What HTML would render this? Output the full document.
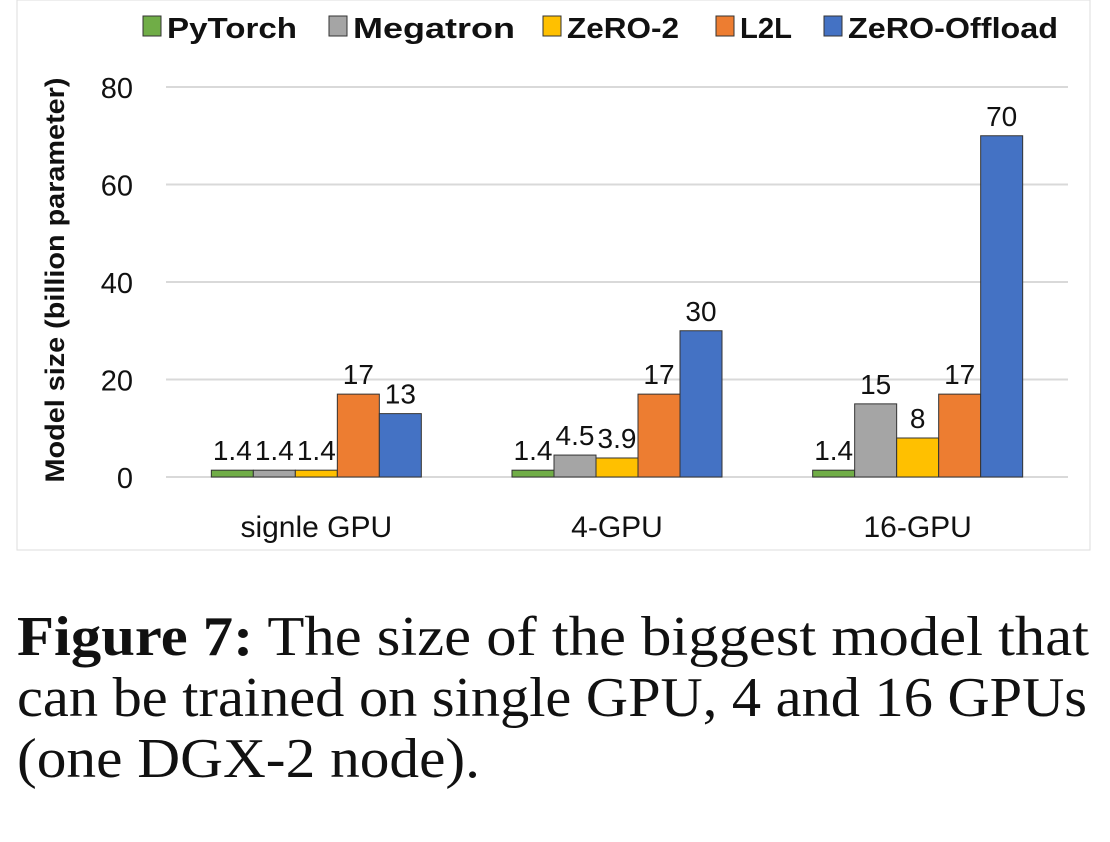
<!DOCTYPE html>
<html><head><meta charset="utf-8"><style>
body{margin:0;background:#fff;width:1110px;height:842px;overflow:hidden}
svg{display:block}
.cap{font-family:"Liberation Serif",serif;font-size:56px;fill:#111}
.t{font-family:"Liberation Sans",sans-serif;fill:#111}
</style></head><body>
<svg id="chart" width="1110" height="842">
<rect x="17" y="0" width="1073" height="550" fill="#fff" stroke="#ddd" stroke-width="1"/>
<g id="grid"></g><g id="bars"></g><g id="legend"></g>
<text class="t" transform="translate(64,280) rotate(-90)" text-anchor="middle" font-size="27" font-weight="bold" textLength="405" lengthAdjust="spacingAndGlyphs">Model size (billion parameter)</text>
<text class="cap" x="17" y="655" textLength="1072" lengthAdjust="spacingAndGlyphs"><tspan font-weight="bold">Figure 7:</tspan> The size of the biggest model that</text>
<text class="cap" x="17" y="716" textLength="1070" lengthAdjust="spacingAndGlyphs">can be trained on single GPU, 4 and 16 GPUs</text>
<text class="cap" x="17" y="777" textLength="463" lengthAdjust="spacingAndGlyphs">(one DGX-2 node).</text>
</svg>
<script>
const categories=["signle GPU","4-GPU","16-GPU"];
const seriesNames=["PyTorch","Megatron","ZeRO-2","L2L","ZeRO-Offload"];
const seriesColors=["#70ad47","#a5a5a5","#ffc000","#ed7d31","#4472c4"];
const pytorch=[1.4,1.4,1.4];
const megatron=[1.4,4.5,15];
const zero2=[1.4,3.9,8];
const l2l=[17,17,17];
const offload=[13,30,70];
const yTicks=[0,20,40,60,80];
const series=[pytorch,megatron,zero2,l2l,offload];
const NS="http://www.w3.org/2000/svg";
const y0=477,yTop=87,yMax=80,xL=166,xR=1068;
const y=v=>y0-(v/yMax)*(y0-yTop);
const groupW=(xR-xL)/categories.length, barW=42;
const cx=i=>xL+groupW*(i+0.5);
function mk(tag,attrs,parent,txt){const e=document.createElementNS(NS,tag);for(const k in attrs)e.setAttribute(k,attrs[k]);if(txt!==undefined)e.textContent=txt;parent.appendChild(e);return e;}
const grid=document.getElementById('grid'),bars=document.getElementById('bars'),leg=document.getElementById('legend');
yTicks.forEach(t=>{
 const l=mk('line',{x1:xL,x2:xR,y1:y(t),y2:y(t),stroke:'#d9d9d9','stroke-width':2},grid);
 
 
 const tx=mk('text',{x:133,y:y(t)+11,'text-anchor':'end','font-size':29,class:'t'},grid,String(t));
 
 
});
categories.forEach((c,i)=>{
 const tx=mk('text',{x:cx(i),y:537,'text-anchor':'middle','font-size':30,class:'t'},grid,c);
 
 
 series.forEach((s,j)=>{
  const x=cx(i)+(j-2.5)*barW;
  const r=mk('rect',{x:x,y:y(s[i]),width:barW,height:y0-y(s[i]),fill:seriesColors[j],stroke:'#333','stroke-width':1},bars);
  
  
  const lb=mk('text',{x:x+barW/2,y:y(s[i])-10,'text-anchor':'middle','font-size':28,class:'t'},bars,String(s[i]));
  
  
 });
});
const legX=[143,329,543,716,824];
const legW=[130,162,112,52,210];
seriesNames.forEach((n,j)=>{
 const r=mk('rect',{x:legX[j],y:16,width:18,height:20,fill:seriesColors[j],stroke:'#333','stroke-width':1},leg);
 
 
 const t=mk('text',{x:legX[j]+24,y:38,'font-size':29,'font-weight':'bold',class:'t',textLength:legW[j],lengthAdjust:'spacingAndGlyphs'},leg,n);
 
 
});
</script>
</body></html>
